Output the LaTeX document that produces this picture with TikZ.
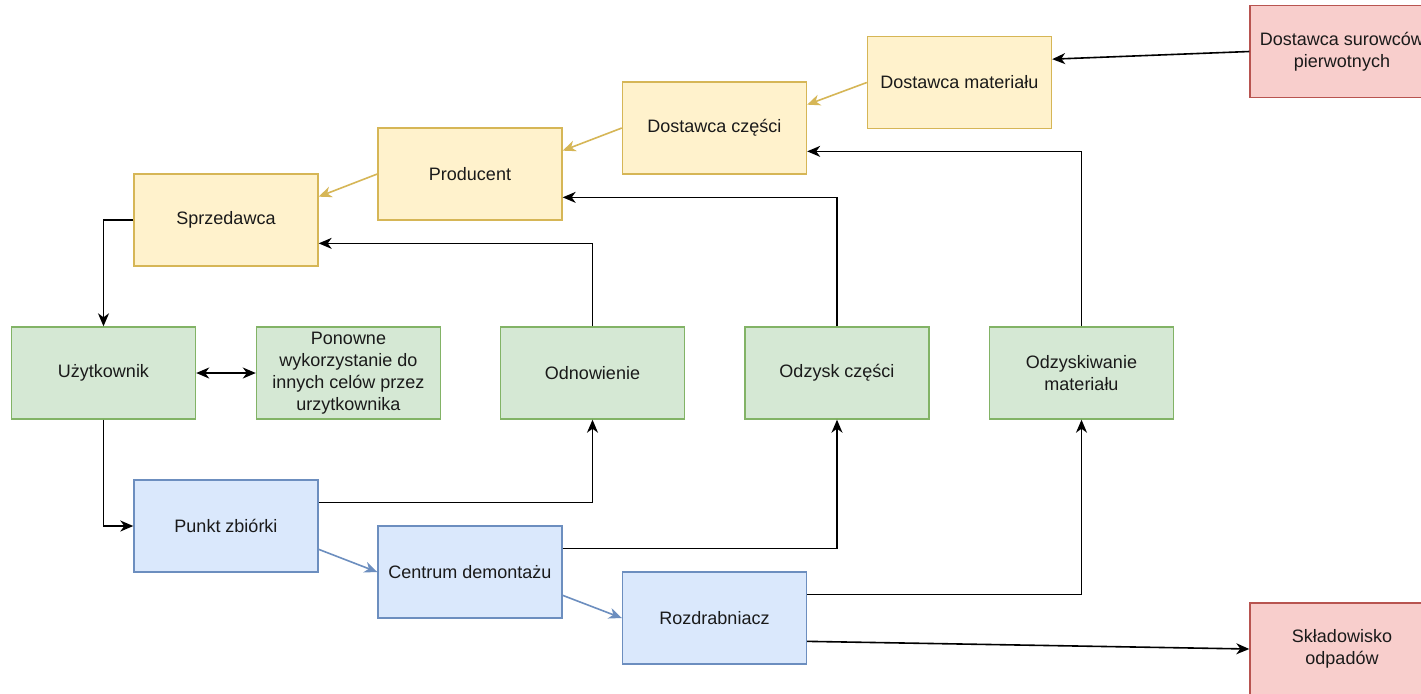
\documentclass[tikz,border=0pt]{standalone}
\usepackage{fontspec}
\setmainfont{Liberation Sans}
\usetikzlibrary{arrows.meta,calc}
\definecolor{yfill}{HTML}{FFF2CC}\definecolor{ydraw}{HTML}{D6B656}
\definecolor{gfill}{HTML}{D5E8D4}\definecolor{gdraw}{HTML}{82B366}
\definecolor{bfill}{HTML}{DAE8FC}\definecolor{bdraw}{HTML}{6C8EBF}
\definecolor{rfill}{HTML}{F8CECC}\definecolor{rdraw}{HTML}{B85450}
\definecolor{txt}{HTML}{1A1A1A}
\begin{document}
\begin{tikzpicture}[x=0.5pt,y=-0.5pt,
  box/.style={rectangle,minimum width=92pt,minimum height=46pt,inner sep=2pt,
    align=center,font=\fontsize{9}{11}\selectfont,text=txt,line width=0.7pt},
  ybox/.style={box,fill=yfill,draw=ydraw},
  gbox/.style={box,fill=gfill,draw=gdraw},
  bbox/.style={box,fill=bfill,draw=bdraw},
  rbox/.style={box,fill=rfill,draw=rdraw},
  arr/.style={line width=0.8pt,-{Stealth[length=6.5pt,width=5.5pt,inset=2pt]}},
  yarr/.style={arr,draw=ydraw,-{Stealth[length=6.5pt,width=5.5pt,inset=2pt,ydraw]}},
  barr/.style={arr,draw=bdraw,-{Stealth[length=6.5pt,width=5.5pt,inset=2pt,bdraw]}},
  darr/.style={line width=0.8pt,{Stealth[length=6.5pt,width=5.5pt,inset=2pt]}-{Stealth[length=6.5pt,width=5.5pt,inset=2pt]}}]
\useasboundingbox (0,0) rectangle (1421,693);
\clip (0,0) rectangle (1421,693);
\fill[white] (0,0) rectangle (1421,693);
\node[rbox] (sur) at (1342,51.5) {Dostawca surowców\\pierwotnych};
\node[ybox] (mat) at (959.5,82.5) {Dostawca materiału};
\node[ybox] (cz) at (714.5,128) {Dostawca części};
\node[ybox] (prod) at (470,174) {Producent};
\node[ybox] (sprz) at (226,220) {Sprzedawca};
\node[gbox] (uz) at (103.5,373) {Użytkownik};
\node[gbox] (pon) at (348.5,373) {Ponowne\\wykorzystanie do\\innych celów przez\\urzytkownika};
\node[gbox] (odn) at (592.5,373) {Odnowienie};
\node[gbox] (odc) at (837,373) {Odzysk części};
\node[gbox] (odm) at (1081.5,373) {Odzyskiwanie\\materiału};
\node[bbox] (pkt) at (226,526) {Punkt zbiórki};
\node[bbox] (cen) at (470,572) {Centrum demontażu};
\node[bbox] (roz) at (714.5,618) {Rozdrabniacz};
\node[rbox] (skl) at (1342,649) {Składowisko\\odpadów};
% helper coordinates
\foreach \n in {mat,cz,prod,sprz,pkt,cen,roz}{
  \coordinate (\n-e1) at ($(\n.north east)!0.25!(\n.south east)$);
  \coordinate (\n-e3) at ($(\n.north east)!0.75!(\n.south east)$);
}
\draw[arr] (sur.west) -- (mat-e1);
\draw[yarr] (mat.west) -- (cz-e1);
\draw[yarr] (cz.west) -- (prod-e1);
\draw[yarr] (prod.west) -- (sprz-e1);
\draw[arr] (sprz.west) -| (uz.north);
\draw[darr] (uz.east) -- (pon.west);
\draw[arr] (uz.south) |- (pkt.west);
\draw[arr] (pkt-e1) -| (odn.south);
\draw[arr] (odn.north) |- (sprz-e3);
\draw[arr] (cen-e1) -| (odc.south);
\draw[arr] (odc.north) |- (prod-e3);
\draw[arr] (roz-e1) -| (odm.south);
\draw[arr] (odm.north) |- (cz-e3);
\draw[arr] (roz-e3) -- (skl.west);
\draw[barr] (pkt-e3) -- (cen.west);
\draw[barr] (cen-e3) -- (roz.west);
\end{tikzpicture}
\end{document}
